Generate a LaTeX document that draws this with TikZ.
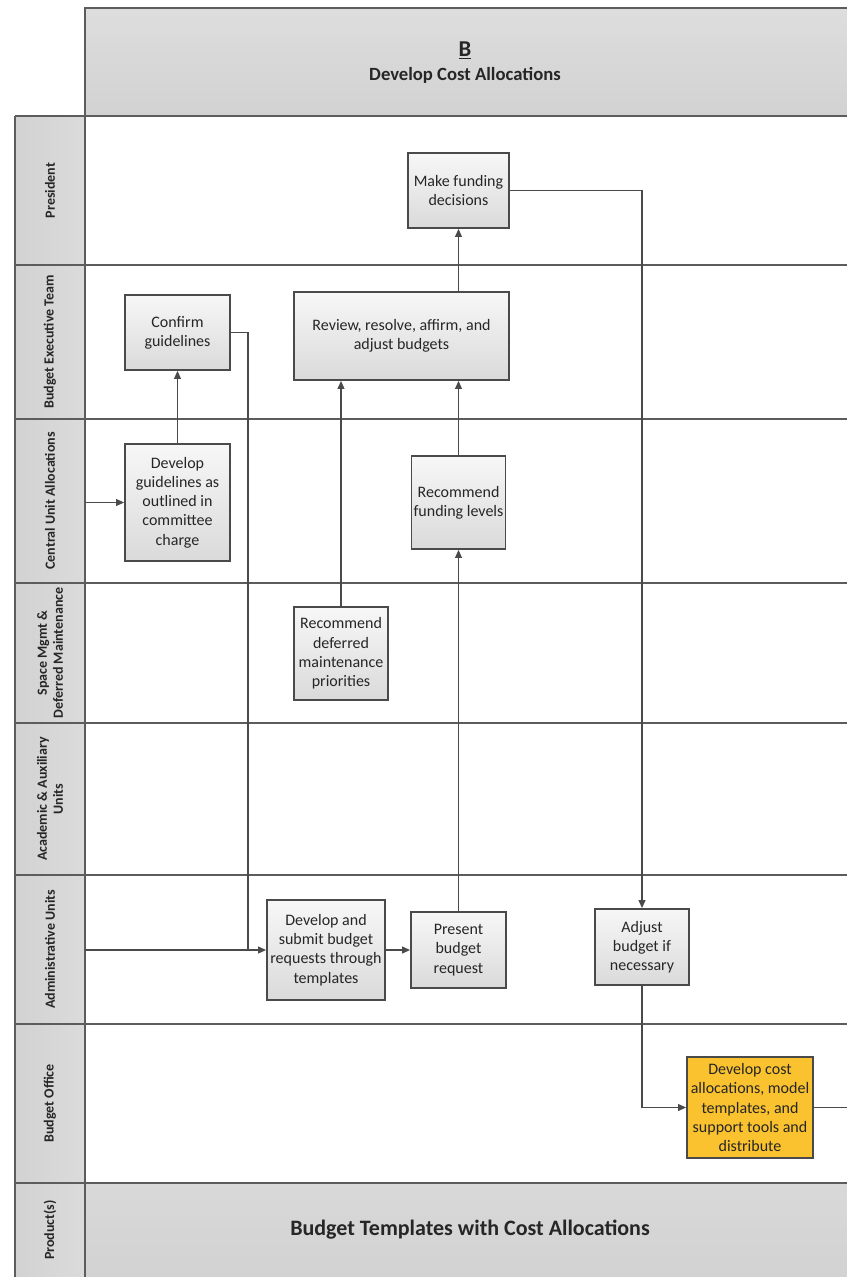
\documentclass[tikz,border=0pt]{standalone}
\usepackage{fontspec}
\setmainfont{Carlito}
\usetikzlibrary{arrows.meta,shadings}
\definecolor{lineC}{HTML}{4A4A4A}
\definecolor{txtC}{HTML}{262626}
\definecolor{laneC}{HTML}{D2D2D2}
\definecolor{boxTop}{HTML}{F7F7F7}
\definecolor{boxBot}{HTML}{DADADA}
\definecolor{goldC}{HTML}{F9C22E}
\tikzset{
  boxnode/.style 2 args={draw=lineC, line width=1.2pt, top color=boxTop, bottom color=boxBot,
    minimum width=#1*0.75pt, minimum height=#2*0.75pt, inner sep=1pt, align=center,
    text=txtC, font=\fontsize{12}{14.4}\selectfont},
  goldnode/.style 2 args={boxnode={#1}{#2}, top color=goldC, bottom color=goldC, fill=goldC},
  flow/.style={draw=lineC, line width=1.2pt, -{Triangle[length=6pt,width=5pt]}},
  plainflow/.style={draw=lineC, line width=1.2pt},
  sepline/.style={draw=lineC!90, line width=1.2pt},
  lanelabel/.style={rotate=90, font=\bfseries\fontsize{10.5}{12}\selectfont, text=txtC, align=center},
}
\begin{document}
\begin{tikzpicture}[x=0.75pt,y=-0.75pt]
\useasboundingbox (0,0) rectangle (846,1277);
% header
\shade[top color=laneC!75, bottom color=laneC] (85,8) rectangle (850,116);
\draw[sepline] (850,8) -- (85,8) -- (85,116) -- (850,116);
\node[font=\bfseries\fontsize{17}{19}\selectfont, text=txtC] (hB) at (465,50) {\underline{B}};
\node[font=\bfseries\fontsize{14}{16}\selectfont, text=txtC] (hT) at (465,75) {Develop Cost Allocations};
% lane label column
\shade[left color=laneC, right color=laneC!80] (15,116) rectangle (85,1277);
% product lane
\shade[top color=laneC!85, bottom color=laneC] (85,1183) rectangle (850,1277);
% separators
\foreach \yy in {116,265,419,583,723,875,1024,1183}{
  \draw[sepline] (15,\yy) -- (850,\yy);
}
\draw[sepline] (15,116) -- (15,1280);
\draw[sepline] (85,116) -- (85,1280);
% lane labels
\node[lanelabel] (lP) at (50,190.5) {President};
\node[lanelabel] (lB) at (50,342) {Budget Executive Team};
\node[lanelabel] (lC) at (50,501) {Central Unit Allocations};
\node[lanelabel] (lS) at (50,653) {Space Mgmt \&\\Deferred Maintenance};
\node[lanelabel] (lA) at (50,799) {Academic \& Auxiliary\\Units};
\node[lanelabel] (lAd) at (50,949.5) {Administrative Units};
\node[lanelabel] (lBO) at (50,1103.5) {Budget Office};
\node[lanelabel] (lPr) at (50,1230) {Product(s)};
\node[font=\bfseries\fontsize{16.5}{19}\selectfont, text=txtC] (prod) at (470,1230) {Budget Templates with Cost Allocations};
% boxes
\node[boxnode={101}{75}] (mfd) at (458.5,190.5) {Make funding\\decisions};
\node[boxnode={105}{75}] (conf) at (177.5,332.5) {Confirm\\guidelines};
\node[boxnode={215}{88}] (rev) at (401.5,336) {Review, resolve, affirm, and\\adjust budgets};
\node[boxnode={105}{117}] (devg) at (177.5,502.5) {Develop\\guidelines as\\outlined in\\committee\\charge};
\node[boxnode={94}{93}] (recf) at (458.5,502.5) {Recommend\\funding levels};
\node[boxnode={94}{93}] (recd) at (341,653.5) {Recommend\\deferred\\maintenance\\priorities};
\node[boxnode={118}{100}] (devs) at (326,950) {Develop and\\submit budget\\requests through\\templates};
\node[boxnode={95}{76}] (pres) at (458.5,950) {Present\\budget\\request};
\node[boxnode={94}{76}] (adj) at (642,947) {Adjust\\budget if\\necessary};
\node[goldnode={126}{101}] (cost) at (750,1107.5) {Develop cost\\allocations, model\\templates, and\\support tools and\\distribute};
% coordinates
\coordinate (inC) at (85,502.5);
\coordinate (inA) at (85,950);
\coordinate (cj) at (248,950);
\coordinate (outB) at (850,1107.5);
% connectors
\draw[flow] (inC) -- (devg.west);
\draw[flow] (devg.north) -- (conf.south);
\draw[plainflow] (conf.east) -| (cj);
\draw[flow] (inA) -- (devs.west);
\draw[flow] (devs.east) -- (pres.west);
\draw[flow] (pres.north) -- (recf.south);
\draw[flow] (recf.north) -- (recf.north |- rev.south);
\draw[flow] (recd.north) -- (recd.north |- rev.south);
\draw[flow] (mfd.south |- rev.north) -- (mfd.south);
\draw[flow] (mfd.east) -| (adj.north);
\draw[flow] (adj.south) |- (cost.west);
\draw[plainflow] (cost.east) -- (outB);
\end{tikzpicture}
\end{document}
